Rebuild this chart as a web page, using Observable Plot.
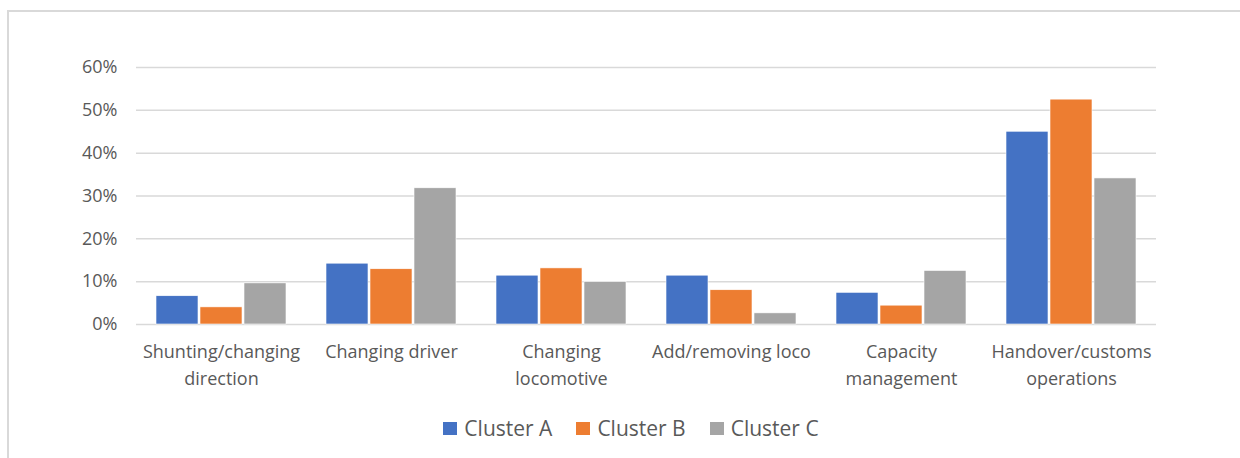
<!DOCTYPE html>
<html>
<head>
<meta charset="utf-8">
<script src="https://cdn.jsdelivr.net/npm/d3@7"></script>
<script src="https://cdn.jsdelivr.net/npm/@observablehq/plot@0.6"></script>
<style>
  html, body { margin: 0; padding: 0; background: #fff; }
  #wrap { position: relative; width: 1240px; height: 458px; overflow: hidden; font-family: "Open Sans", sans-serif; }
  #frame { position: absolute; left: 7px; top: 10px; width: 1260px; height: 470px; border-left: 2px solid #d9d9d9; border-top: 2px solid #d9d9d9; box-sizing: border-box; }
  #chart { position: absolute; left: 0; top: 0; }
  #legend { position: absolute; left: 0; top: 414px; width: 1262px; display: flex; justify-content: center; align-items: center; gap: 24px; color: #595959; font-size: 21px; }
  .item { display: flex; align-items: center; gap: 7px; }
  .sw { width: 14px; height: 13px; display: inline-block; }
</style>
</head>
<body>
<div id="wrap">
  <div id="frame"></div>
  <div id="chart"></div>
  <div id="legend"></div>
</div>
<script>
const categories = ["Shunting/changing direction", "Changing driver", "Changing locomotive", "Add/removing loco", "Capacity management", "Handover/customs operations"];
const tickLabels = ["Shunting/changing\ndirection", "Changing driver", "Changing\nlocomotive", "Add/removing loco", "Capacity\nmanagement", "Handover/customs\noperations"];
const series = ["Cluster A", "Cluster B", "Cluster C"];
const colors = ["#4472C4", "#ED7D31", "#A5A5A5"];
const clusterA = [0.066, 0.142, 0.114, 0.114, 0.074, 0.450];
const clusterB = [0.040, 0.129, 0.131, 0.080, 0.044, 0.525];
const clusterC = [0.096, 0.318, 0.099, 0.026, 0.125, 0.341];
const yTicks = [0, 0.1, 0.2, 0.3, 0.4, 0.5, 0.6];

const values = [clusterA, clusterB, clusterC];
const data = [];
categories.forEach((c, i) => series.forEach((s, j) => data.push({category: c, series: s, value: values[j][i]})));

const plot = Plot.plot({
  width: 1240,
  height: 400,
  marginLeft: 135,
  marginRight: 83,
  marginTop: 67,
  marginBottom: 76,
  style: {fontFamily: "Open Sans, sans-serif", color: "#595959", background: "transparent"},
  fx: {domain: categories, padding: 0},
  x: {domain: series, paddingInner: 0.055, paddingOuter: 0.422, axis: null},
  y: {domain: [0, 0.6]},
  color: {domain: series, range: colors},
  marks: [
    Plot.ruleY(yTicks, {stroke: "#d9d9d9", strokeWidth: 1.5}),
    Plot.barY(data, {fx: "category", x: "series", y: "value", fill: "series", stroke: "white", strokeWidth: 0.6}),
    Plot.axisY({ticks: yTicks, tickSize: 0, tickPadding: 19, tickFormat: d3.format(".0%"), fontSize: 18, fill: "#595959", label: null}),
    Plot.axisFx({anchor: "bottom", tickSize: 0, tickPadding: 14, fontSize: 18, lineHeight: 1.5, fill: "#595959", label: null,
      tickFormat: d => tickLabels[categories.indexOf(d)]})
  ]
});
document.getElementById("chart").appendChild(plot);

const legend = d3.select("#legend");
series.forEach((s, i) => {
  const it = legend.append("div").attr("class", "item");
  it.append("span").attr("class", "sw").style("background", colors[i]);
  it.append("span").text(s);
});
</script>
</body>
</html>
